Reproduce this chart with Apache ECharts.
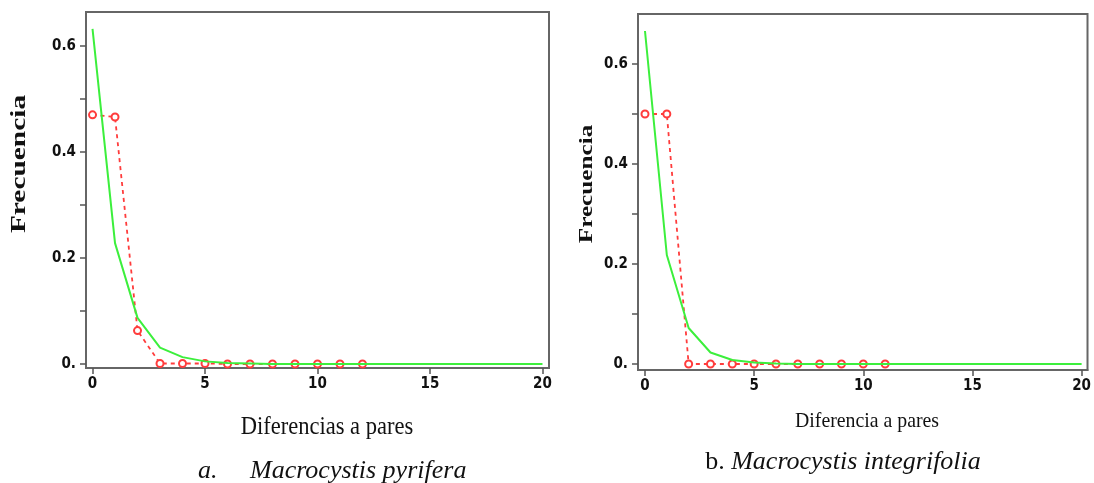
<!DOCTYPE html>
<html>
<head>
<meta charset="utf-8">
<script src="https://cdn.jsdelivr.net/npm/echarts@6/dist/echarts.min.js"></script>
<style>
  html, body { margin: 0; padding: 0; background: #fff; }
  #chart { width: 1094px; height: 483px; }
</style>
</head>
<body>
<div id="chart"></div>
<script>
// diferencias a pares (eje x)
const diffs = [0, 1, 2, 3, 4, 5, 6, 7, 8, 9, 10, 11, 12, 13, 14, 15, 16, 17, 18, 19, 20]

// a. Macrocystis pyrifera
const obsA = [0.47, 0.466, 0.063, 0.001, 0.001, 0.001, 0, 0, 0, 0, 0, 0, 0]
const expA = [0.632, 0.228, 0.087, 0.031, 0.013, 0.005, 0.002, 0.001, 0, 0, 0, 0, 0, 0, 0, 0, 0, 0, 0, 0, 0]

// b. Macrocystis integrifolia
const obsB = [0.5, 0.5, 0, 0, 0, 0, 0, 0, 0, 0, 0, 0]
const expB = [0.666, 0.218, 0.072, 0.023, 0.008, 0.003, 0.001, 0, 0, 0, 0, 0, 0, 0, 0, 0, 0, 0, 0, 0, 0]

const xTicks = [0, 5, 10, 15, 20]
const yTicks = [0, 0.1, 0.2, 0.3, 0.4, 0.5, 0.6]
const yLabels = [0, 0.2, 0.4, 0.6]

const pairs = (vals) => vals.map((v, i) => [diffs[i], v])

const labelFont = "'Liberation Sans Narrow', 'DejaVu Sans Condensed', sans-serif"
const serif = "'Liberation Serif', 'DejaVu Serif', serif"

function xAxisFor(idx, min, max) {
  return {
    type: 'value', gridIndex: idx, min: min, max: max,
    splitLine: { show: false },
    axisLine: { show: true, onZero: false, lineStyle: { color: '#666', width: 2 } },
    axisTick: { show: true, length: 6, customValues: xTicks, lineStyle: { color: '#555', width: 1.5 } },
    axisLabel: {
      customValues: xTicks, margin: 9,
      color: '#111', fontFamily: labelFont, fontWeight: 'bold', fontSize: 15
    }
  }
}

function yAxisFor(idx, min, max) {
  return {
    type: 'value', gridIndex: idx, min: min, max: max,
    splitLine: { show: false },
    axisLine: { show: true, onZero: false, lineStyle: { color: '#666', width: 2 } },
    axisTick: { show: true, length: 6, customValues: yTicks, lineStyle: { color: '#555', width: 1.5 } },
    axisLabel: {
      customValues: yLabels, margin: 10,
      formatter: (v) => (v === 0 ? '0.' : v.toFixed(1)),
      color: '#111', fontFamily: labelFont, fontWeight: 'bold', fontSize: 15
    }
  }
}

function obsSeries(idx, vals) {
  return {
    type: 'line', xAxisIndex: idx, yAxisIndex: idx, data: pairs(vals),
    symbol: 'emptyCircle', symbolSize: 7, z: 2,
    itemStyle: { color: '#ff3c3c', borderWidth: 1.8 },
    lineStyle: { color: '#ff3c3c', width: 1.8, type: [4, 4] }
  }
}

function expSeries(idx, vals) {
  return {
    type: 'line', xAxisIndex: idx, yAxisIndex: idx, data: pairs(vals),
    symbol: 'none', z: 3,
    lineStyle: { color: '#3cef3c', width: 2 }
  }
}

const chart = echarts.init(document.getElementById('chart'))
chart.setOption({
  animation: false,
  grid: [
    { left: 86, top: 12, width: 463, height: 356, show: true, borderColor: '#666', borderWidth: 2 },
    { left: 638, top: 14, width: 453, height: 356, show: true, borderColor: '#666', borderWidth: 2 }
  ],
  xAxis: [xAxisFor(0, -0.29, 20.29), xAxisFor(1, -0.32, 20.27)],
  yAxis: [yAxisFor(0, -0.0075, 0.664), yAxisFor(1, -0.012, 0.70)],
  series: [
    obsSeries(0, obsA), expSeries(0, expA),
    obsSeries(1, obsB), expSeries(1, expB)
  ],
  graphic: [
    {
      type: 'text', x: 20, y: 164, rotation: Math.PI / 2, scaleX: 1.4,
      style: { text: 'Frecuencia', font: 'bold 21px ' + serif, fill: '#111', align: 'center', verticalAlign: 'middle' }
    },
    {
      type: 'text', x: 587, y: 184, rotation: Math.PI / 2, scaleX: 1.4,
      style: { text: 'Frecuencia', font: 'bold 18px ' + serif, fill: '#111', align: 'center', verticalAlign: 'middle' }
    },
    {
      type: 'text', x: 327, y: 427, scaleX: 0.9,
      style: { text: 'Diferencias a pares', font: '25px ' + serif, fill: '#111', align: 'center', verticalAlign: 'middle' }
    },
    {
      type: 'text', x: 867, y: 421, scaleX: 0.9,
      style: { text: 'Diferencia a pares', font: '22px ' + serif, fill: '#111', align: 'center', verticalAlign: 'middle' }
    },
    {
      type: 'text', x: 198, y: 471,
      style: { text: 'a.     Macrocystis pyrifera', font: 'italic 26px ' + serif, fill: '#111', align: 'left', verticalAlign: 'middle' }
    },
    {
      type: 'text', x: 843, y: 462,
      style: {
        text: '{n|b. }{i|Macrocystis integrifolia}', align: 'center', verticalAlign: 'middle',
        rich: {
          n: { font: '26px ' + serif, fill: '#111' },
          i: { font: 'italic 26px ' + serif, fill: '#111' }
        }
      }
    }
  ]
})
</script>
</body>
</html>
